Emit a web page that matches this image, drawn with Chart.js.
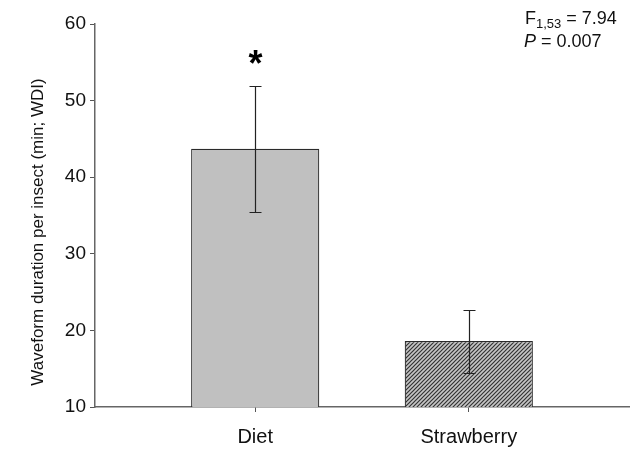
<!DOCTYPE html>
<html>
<head>
<meta charset="utf-8">
<script src="https://cdn.jsdelivr.net/npm/chart.js@4"></script>
<style>
  html, body { margin: 0; padding: 0; background: #fff; }
</style>
</head>
<body>
<canvas id="chart" width="630" height="449"></canvas>
<script>
// Mean waveform duration per insect with standard errors
const categories = ['Diet', 'Strawberry'];
const means = [43.7, 18.6];
const stdErrors = [8.2, 4.1];
const significance = ['*', ''];
const yTicks = [10, 20, 30, 40, 50, 60];
const yTitle = 'Waveform duration per insect (min; WDI)';
const statDf = '1,53';
const statF = '7.94';
const statP = '0.007';

const FONT = "'Liberation Sans', Arial, sans-serif";

// Diagonal hatch fill for the second bar
function hatchPattern() {
  const tile = document.createElement('canvas');
  tile.width = 4; tile.height = 4;
  const g = tile.getContext('2d');
  g.fillStyle = '#c6c6c6';
  g.fillRect(0, 0, 4, 4);
  g.strokeStyle = '#333';
  g.lineWidth = 1.2;
  g.beginPath();
  g.moveTo(0, 4); g.lineTo(4, 0);
  g.moveTo(-1, 1); g.lineTo(1, -1);
  g.moveTo(3, 5); g.lineTo(5, 3);
  g.stroke();
  return g.createPattern(tile, 'repeat');
}

// Error bars with caps, plus the significance marker
const errorBars = {
  id: 'errorBars',
  afterDatasetsDraw(chart) {
    const { ctx, scales: { x, y } } = chart;
    ctx.save();
    ctx.strokeStyle = '#222';
    ctx.lineWidth = 1.2;
    means.forEach((m, i) => {
      const px = Math.round(x.getPixelForValue(i + 1)) + 0.5;
      const top = Math.round(y.getPixelForValue(m + stdErrors[i])) + 0.5;
      const bot = Math.round(y.getPixelForValue(m - stdErrors[i])) + 0.5;
      ctx.beginPath();
      ctx.moveTo(px, top); ctx.lineTo(px, bot);
      ctx.moveTo(px - 6, top); ctx.lineTo(px + 6, top);
      ctx.moveTo(px - 6, bot); ctx.lineTo(px + 6, bot);
      ctx.stroke();
      if (significance[i]) {
        ctx.fillStyle = '#000';
        ctx.font = 'bold 36px ' + FONT;
        ctx.textAlign = 'center';
        ctx.textBaseline = 'alphabetic';
        ctx.fillText(significance[i], px, top - 11);
      }
    });
    ctx.restore();
  }
};

// Rotated y-axis title and the test statistic in the upper right corner
const textLayer = {
  id: 'textLayer',
  afterDraw(chart) {
    const { ctx } = chart;
    ctx.save();
    ctx.fillStyle = '#111';

    ctx.save();
    ctx.translate(38, 232);
    ctx.rotate(-Math.PI / 2);
    ctx.font = '17px ' + FONT;
    ctx.textAlign = 'center';
    ctx.textBaseline = 'middle';
    ctx.fillText(yTitle, 0, 0);
    ctx.restore();

    ctx.textAlign = 'left';
    ctx.textBaseline = 'alphabetic';
    let xx = 525;
    ctx.font = '18px ' + FONT;
    ctx.fillText('F', xx, 24);
    xx += ctx.measureText('F').width;
    ctx.font = '13px ' + FONT;
    ctx.fillText(statDf, xx, 28);
    xx += ctx.measureText(statDf).width;
    ctx.font = '18px ' + FONT;
    ctx.fillText(' = ' + statF, xx, 24);

    xx = 524;
    ctx.font = 'italic 18px ' + FONT;
    ctx.fillText('P', xx, 47);
    xx += ctx.measureText('P').width;
    ctx.font = '18px ' + FONT;
    ctx.fillText(' = ' + statP, xx, 47);
    ctx.restore();
  }
};

new Chart(document.getElementById('chart'), {
  type: 'bar',
  data: {
    datasets: [{
      data: categories.map((c, i) => ({ x: i + 1, y: means[i] })),
      backgroundColor: ['#c0c0c0', hatchPattern()],
      borderColor: '#2a2a2a',
      borderWidth: 1.2,
      borderSkipped: false,
      categoryPercentage: 1,
      barPercentage: 0.6
    }]
  },
  options: {
    responsive: false,
    animation: false,
    devicePixelRatio: 1,
    layout: { padding: { top: 24, right: 1, left: 0, bottom: 0 } },
    plugins: { legend: { display: false }, tooltip: { enabled: false } },
    scales: {
      x: {
        type: 'linear',
        min: 0.25,
        max: 2.75,
        offset: false,
        afterBuildTicks: s => { s.ticks = categories.map((c, i) => ({ value: i + 1 })); },
        afterFit: s => { s.height = 42; },
        ticks: {
          callback: v => categories[v - 1] ?? '',
          font: { family: FONT, size: 20 },
          color: '#111',
          padding: 13,
          maxRotation: 0,
          autoSkip: false
        },
        grid: { offset: false, drawOnChartArea: false, drawTicks: true, tickLength: 5, color: '#555', lineWidth: 1 },
        border: { display: true, color: '#666', width: 1.5 }
      },
      y: {
        min: 10,
        max: 60,
        afterBuildTicks: s => { s.ticks = yTicks.map(v => ({ value: v })); },
        afterFit: s => { s.width = 95; },
        ticks: { font: { family: FONT, size: 19 }, color: '#111', padding: 4 },
        grid: { drawOnChartArea: false, drawTicks: true, tickLength: 5, color: '#555', lineWidth: 1 },
        border: { display: true, color: '#666', width: 1.5 }
      }
    }
  },
  plugins: [errorBars, textLayer]
});
</script>
</body>
</html>
